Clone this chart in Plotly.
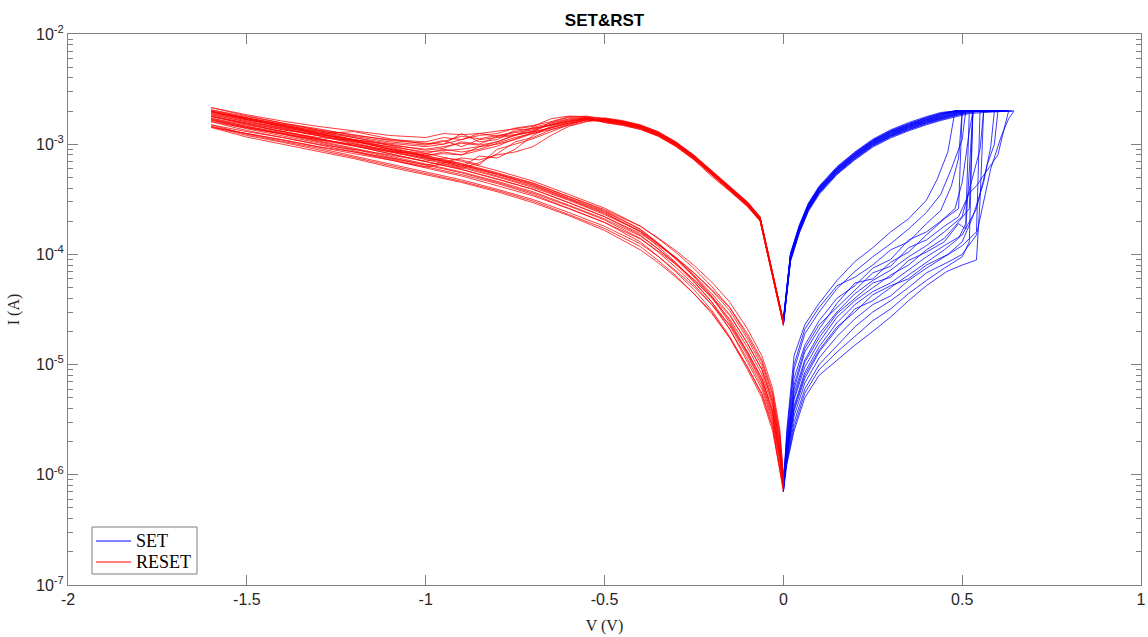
import plotly.graph_objects as go

# ---------------- SET sweeps (0 -> Vmax -> 0) ----------------
SET_V_FWD = [0.0, 0.01, 0.03, 0.06, 0.10, 0.15, 0.20, 0.25, 0.30, 0.35, 0.40]
SET_V_RET = [0.52, 0.48, 0.44, 0.40, 0.35, 0.30, 0.25, 0.20, 0.15, 0.10, 0.07, 0.045, 0.02, 0.0]

set_hrs_I = [
    [8.0e-7, 2.6e-6, 1.2e-5, 2.3e-5, 3.6e-5, 5.8e-5, 8.6e-5, 1.15e-4, 1.6e-4, 2.1e-4, 3.1e-4],
    [7.5e-7, 2.2e-6, 9.0e-6, 1.9e-5, 3.0e-5, 4.9e-5, 7.0e-5, 9.5e-5, 1.25e-4, 1.7e-4, 2.4e-4],
    [9.0e-7, 2.0e-6, 7.5e-6, 1.5e-5, 2.5e-5, 4.0e-5, 5.2e-5, 7.5e-5, 9.0e-5, 1.35e-4, 1.6e-4],
    [7.0e-7, 1.8e-6, 6.0e-6, 1.3e-5, 2.1e-5, 3.6e-5, 5.5e-5, 6.0e-5, 8.5e-5, 1.05e-4, 1.5e-4],
    [8.5e-7, 1.7e-6, 5.5e-6, 1.1e-5, 1.9e-5, 3.0e-5, 4.4e-5, 5.8e-5, 7.2e-5, 9.5e-5, 1.2e-4],
    [7.2e-7, 1.6e-6, 4.8e-6, 9.5e-6, 1.6e-5, 2.7e-5, 3.8e-5, 5.0e-5, 6.5e-5, 8.0e-5, 1.1e-4],
    [1.0e-6, 1.5e-6, 4.2e-6, 8.5e-6, 1.45e-5, 2.4e-5, 3.5e-5, 4.6e-5, 5.5e-5, 7.2e-5, 9.5e-5],
    [7.0e-7, 1.45e-6, 3.8e-6, 7.5e-6, 1.3e-5, 2.1e-5, 3.2e-5, 3.8e-5, 5.0e-5, 6.5e-5, 8.5e-5],
    [8.0e-7, 1.4e-6, 3.4e-6, 6.8e-6, 1.15e-5, 1.8e-5, 2.6e-5, 3.5e-5, 4.2e-5, 5.8e-5, 7.5e-5],
    [7.5e-7, 1.35e-6, 3.0e-6, 6.0e-6, 1.0e-5, 1.5e-5, 2.2e-5, 3.0e-5, 3.8e-5, 5.0e-5, 6.8e-5],
    [9.0e-7, 1.3e-6, 2.7e-6, 5.5e-6, 9.0e-6, 1.3e-5, 1.8e-5, 2.5e-5, 3.2e-5, 4.4e-5, 5.8e-5],
    [7.0e-7, 1.25e-6, 2.5e-6, 5.0e-6, 8.0e-6, 1.1e-5, 1.5e-5, 2.0e-5, 2.7e-5, 3.8e-5, 5.2e-5],
    [8.0e-7, 2.4e-6, 1.0e-5, 2.1e-5, 3.3e-5, 5.2e-5, 6.2e-5, 8.0e-5, 1.1e-4, 1.3e-4, 1.9e-4],
    [7.5e-7, 1.9e-6, 6.5e-6, 1.4e-5, 2.3e-5, 3.3e-5, 4.8e-5, 6.8e-5, 7.8e-5, 1.15e-4, 1.35e-4],
    [9.0e-7, 1.6e-6, 5.0e-6, 1.05e-5, 1.75e-5, 2.9e-5, 4.0e-5, 5.5e-5, 6.2e-5, 8.8e-5, 1.05e-4],
    [7.0e-7, 1.5e-6, 4.0e-6, 8.0e-6, 1.35e-5, 2.2e-5, 3.0e-5, 4.3e-5, 5.2e-5, 6.0e-5, 8.0e-5],
]

set_tail_V = [
    [0.43, 0.46, 0.48, 0.55],
    [0.44, 0.47, 0.50, 0.51, 0.58],
    [0.44, 0.48, 0.50, 0.52, 0.53, 0.60],
    [0.45, 0.49, 0.50, 0.57],
    [0.45, 0.50, 0.53, 0.55, 0.56, 0.62],
    [0.45, 0.48, 0.52, 0.53, 0.59],
    [0.45, 0.50, 0.54, 0.57, 0.59, 0.60, 0.64],
    [0.45, 0.49, 0.51, 0.52, 0.57],
    [0.45, 0.50, 0.54, 0.55, 0.61],
    [0.46, 0.50, 0.54, 0.58, 0.61, 0.63, 0.645],
    [0.45, 0.50, 0.52, 0.53, 0.60],
    [0.457, 0.50, 0.54, 0.55, 0.56, 0.62],
    [0.44, 0.47, 0.49, 0.50, 0.56],
    [0.45, 0.49, 0.52, 0.54, 0.60, 0.62, 0.63],
    [0.45, 0.49, 0.51, 0.53, 0.58],
    [0.46, 0.50, 0.53, 0.56, 0.58, 0.59, 0.63],
]
set_tail_I = [
    [4.8e-4, 8.5e-4, 2.0e-3, 2.0e-3],
    [3.5e-4, 6.0e-4, 1.1e-3, 2.0e-3, 2.0e-3],
    [2.0e-4, 2.6e-4, 4.5e-4, 1.3e-3, 2.0e-3, 2.0e-3],
    [2.1e-4, 2.6e-4, 2.0e-3, 2.0e-3],
    [1.6e-4, 2.2e-4, 5.0e-4, 9.0e-4, 2.0e-3, 2.0e-3],
    [1.4e-4, 1.8e-4, 2.6e-4, 2.0e-3, 2.0e-3],
    [1.2e-4, 1.5e-4, 2.6e-4, 6.5e-4, 1.0e-3, 2.0e-3, 2.0e-3],
    [1.1e-4, 1.4e-4, 1.9e-4, 2.0e-3, 2.0e-3],
    [9.5e-5, 1.2e-4, 1.6e-4, 2.0e-3, 2.0e-3],
    [8.5e-5, 1.0e-4, 1.5e-4, 6.0e-4, 1.2e-3, 1.7e-3, 2.0e-3],
    [7.5e-5, 9.5e-5, 1.3e-4, 2.0e-3, 2.0e-3],
    [7.0e-5, 8.0e-5, 8.9e-5, 3.1e-4, 2.0e-3, 2.0e-3],
    [2.5e-4, 4.2e-4, 7.5e-4, 2.0e-3, 2.0e-3],
    [1.8e-4, 2.2e-4, 3.6e-4, 4.2e-4, 8.0e-4, 1.5e-3, 2.0e-3],
    [1.3e-4, 1.9e-4, 1.7e-4, 2.0e-3, 2.0e-3],
    [1.0e-4, 1.3e-4, 2.2e-4, 4.5e-4, 9.5e-4, 2.0e-3, 2.0e-3],
]

set_lrs_I = [
    [1.93e-3, 1.81e-3, 1.67e-3, 1.53e-3, 1.35e-3, 1.16e-3, 9.6e-4, 7.35e-4, 5.4e-4, 3.6e-4, 2.5e-4, 1.6e-4, 8.8e-5, 2.3e-5],
    [2.0e-3, 1.87e-3, 1.73e-3, 1.58e-3, 1.39e-3, 1.2e-3, 9.9e-4, 7.6e-4, 5.55e-4, 3.7e-4, 2.6e-4, 1.65e-4, 9.1e-5, 2.35e-5],
    [2.0e-3, 1.91e-3, 1.76e-3, 1.62e-3, 1.42e-3, 1.22e-3, 1.01e-3, 7.75e-4, 5.7e-4, 3.78e-4, 2.65e-4, 1.69e-4, 9.3e-5, 2.4e-5],
    [2.0e-3, 1.95e-3, 1.80e-3, 1.65e-3, 1.45e-3, 1.25e-3, 1.03e-3, 7.9e-4, 5.8e-4, 3.85e-4, 2.7e-4, 1.72e-4, 9.5e-5, 2.4e-5],
    [2.0e-3, 1.99e-3, 1.84e-3, 1.68e-3, 1.48e-3, 1.28e-3, 1.05e-3, 8.05e-4, 5.9e-4, 3.93e-4, 2.75e-4, 1.75e-4, 9.7e-5, 2.45e-5],
    [2.0e-3, 2.0e-3, 1.87e-3, 1.72e-3, 1.51e-3, 1.3e-3, 1.07e-3, 8.2e-4, 6.0e-4, 4.0e-4, 2.8e-4, 1.79e-4, 9.9e-5, 2.5e-5],
    [2.0e-3, 2.0e-3, 1.91e-3, 1.75e-3, 1.54e-3, 1.33e-3, 1.09e-3, 8.4e-4, 6.15e-4, 4.08e-4, 2.86e-4, 1.82e-4, 1.0e-4, 2.55e-5],
    [1.98e-3, 1.85e-3, 1.71e-3, 1.57e-3, 1.38e-3, 1.19e-3, 9.8e-4, 7.5e-4, 5.5e-4, 3.66e-4, 2.57e-4, 1.63e-4, 9.0e-5, 2.3e-5],
    [2.0e-3, 1.93e-3, 1.78e-3, 1.63e-3, 1.44e-3, 1.24e-3, 1.02e-3, 7.8e-4, 5.75e-4, 3.81e-4, 2.67e-4, 1.7e-4, 9.4e-5, 2.4e-5],
    [2.0e-3, 1.97e-3, 1.82e-3, 1.67e-3, 1.46e-3, 1.26e-3, 1.04e-3, 8.0e-4, 5.85e-4, 3.89e-4, 2.73e-4, 1.74e-4, 9.6e-5, 2.4e-5],
    [2.0e-3, 2.0e-3, 1.85e-3, 1.7e-3, 1.49e-3, 1.29e-3, 1.06e-3, 8.1e-4, 5.95e-4, 3.97e-4, 2.78e-4, 1.77e-4, 9.8e-5, 2.45e-5],
    [2.0e-3, 1.89e-3, 1.75e-3, 1.6e-3, 1.41e-3, 1.21e-3, 1.0e-3, 7.7e-4, 5.6e-4, 3.73e-4, 2.62e-4, 1.67e-4, 9.2e-5, 2.35e-5],
    [2.0e-3, 2.0e-3, 1.89e-3, 1.73e-3, 1.52e-3, 1.31e-3, 1.08e-3, 8.3e-4, 6.1e-4, 4.04e-4, 2.84e-4, 1.81e-4, 1.0e-4, 2.5e-5],
    [1.96e-3, 1.83e-3, 1.69e-3, 1.55e-3, 1.36e-3, 1.18e-3, 9.7e-4, 7.4e-4, 5.45e-4, 3.62e-4, 2.54e-4, 1.62e-4, 8.9e-5, 2.3e-5],
    [2.0e-3, 2.0e-3, 1.94e-3, 1.78e-3, 1.57e-3, 1.35e-3, 1.11e-3, 8.5e-4, 6.25e-4, 4.16e-4, 2.92e-4, 1.86e-4, 1.03e-4, 2.55e-5],
    [1.9e-3, 1.77e-3, 1.64e-3, 1.5e-3, 1.32e-3, 1.14e-3, 9.4e-4, 7.2e-4, 5.3e-4, 3.5e-4, 2.46e-4, 1.57e-4, 8.6e-5, 2.25e-5],
]

# ---------------- RESET sweeps (0 -> -1.6 -> 0) ----------------
RST_V_LRS = [0.0, -0.065, -0.10, -0.15, -0.20, -0.25, -0.30, -0.35, -0.40, -0.45, -0.50]
RST_V_MID = [-0.55, -0.60, -0.65, -0.70, -0.75, -0.80, -0.85, -0.90, -0.95, -1.00,
             -1.10, -1.20, -1.30, -1.40, -1.50, -1.60]
RST_V_RET = [-1.50, -1.40, -1.30, -1.20, -1.10, -1.00, -0.90, -0.80, -0.70, -0.60,
             -0.50, -0.40, -0.35, -0.30, -0.25, -0.20, -0.15, -0.10, -0.06, -0.03, -0.01, 0.0]

rst_lrs_I = [
    [2.3e-5, 2.0e-4, 2.7e-4, 3.75e-4, 5.1e-4, 7.2e-4, 9.5e-4, 1.18e-3, 1.36e-3, 1.48e-3, 1.57e-3],
    [2.35e-5, 2.04e-4, 2.76e-4, 3.83e-4, 5.24e-4, 7.37e-4, 9.7e-4, 1.2e-3, 1.39e-3, 1.51e-3, 1.6e-3],
    [2.4e-5, 2.08e-4, 2.82e-4, 3.91e-4, 5.35e-4, 7.52e-4, 9.9e-4, 1.23e-3, 1.42e-3, 1.54e-3, 1.63e-3],
    [2.4e-5, 2.1e-4, 2.85e-4, 3.95e-4, 5.4e-4, 7.6e-4, 1.0e-3, 1.24e-3, 1.43e-3, 1.56e-3, 1.65e-3],
    [2.4e-5, 2.12e-4, 2.88e-4, 3.99e-4, 5.45e-4, 7.68e-4, 1.01e-3, 1.25e-3, 1.44e-3, 1.58e-3, 1.67e-3],
    [2.45e-5, 2.16e-4, 2.94e-4, 4.07e-4, 5.56e-4, 7.83e-4, 1.03e-3, 1.28e-3, 1.47e-3, 1.61e-3, 1.7e-3],
    [2.5e-5, 2.2e-4, 3.0e-4, 4.15e-4, 5.67e-4, 7.98e-4, 1.05e-3, 1.3e-3, 1.5e-3, 1.64e-3, 1.73e-3],
    [2.3e-5, 2.02e-4, 2.74e-4, 3.79e-4, 5.18e-4, 7.3e-4, 9.6e-4, 1.19e-3, 1.37e-3, 1.5e-3, 1.58e-3],
    [2.35e-5, 2.06e-4, 2.79e-4, 3.87e-4, 5.29e-4, 7.45e-4, 9.8e-4, 1.22e-3, 1.4e-3, 1.53e-3, 1.62e-3],
    [2.45e-5, 2.14e-4, 2.91e-4, 4.03e-4, 5.5e-4, 7.75e-4, 1.02e-3, 1.26e-3, 1.46e-3, 1.59e-3, 1.68e-3],
    [2.5e-5, 2.18e-4, 2.96e-4, 4.11e-4, 5.62e-4, 7.9e-4, 1.04e-3, 1.29e-3, 1.49e-3, 1.62e-3, 1.72e-3],
    [2.4e-5, 2.1e-4, 2.85e-4, 3.95e-4, 5.4e-4, 7.6e-4, 1.0e-3, 1.24e-3, 1.43e-3, 1.56e-3, 1.66e-3],
    [2.35e-5, 2.04e-4, 2.76e-4, 3.83e-4, 5.24e-4, 7.37e-4, 9.7e-4, 1.2e-3, 1.39e-3, 1.52e-3, 1.61e-3],
    [2.45e-5, 2.14e-4, 2.91e-4, 4.03e-4, 5.5e-4, 7.75e-4, 1.02e-3, 1.26e-3, 1.46e-3, 1.59e-3, 1.69e-3],
    [2.4e-5, 2.1e-4, 2.85e-4, 3.95e-4, 5.4e-4, 7.6e-4, 1.0e-3, 1.24e-3, 1.43e-3, 1.56e-3, 1.65e-3],
    [2.45e-5, 2.16e-4, 2.94e-4, 4.07e-4, 5.56e-4, 7.83e-4, 1.03e-3, 1.28e-3, 1.47e-3, 1.61e-3, 1.7e-3],
]

rst_mid_I = [
    [1.78e-3, 1.80e-3, 1.70e-3, 1.45e-3, 1.38e-3, 1.30e-3, 1.25e-3, 1.22e-3, 1.25e-3, 1.15e-3, 1.2e-3, 1.32e-3, 1.45e-3, 1.62e-3, 1.85e-3, 2.15e-3],
    [1.65e-3, 1.55e-3, 1.40e-3, 1.30e-3, 1.20e-3, 1.05e-3, 9.5e-4, 9.0e-4, 8.8e-4, 8.5e-4, 9.5e-4, 1.05e-3, 1.2e-3, 1.35e-3, 1.55e-3, 1.78e-3],
    [1.7e-3, 1.6e-3, 1.45e-3, 1.2e-3, 9.0e-4, 7.5e-4, 7.8e-4, 6.2e-4, 7.0e-4, 7.5e-4, 8.5e-4, 9.5e-4, 1.08e-3, 1.22e-3, 1.4e-3, 1.6e-3],
    [1.72e-3, 1.62e-3, 1.5e-3, 1.38e-3, 1.35e-3, 1.1e-3, 1.05e-3, 1.25e-3, 1.0e-3, 9.5e-4, 1.02e-3, 1.15e-3, 1.3e-3, 1.45e-3, 1.7e-3, 1.95e-3],
    [1.68e-3, 1.5e-3, 1.3e-3, 1.12e-3, 1.0e-3, 9.0e-4, 6.5e-4, 7.2e-4, 7.5e-4, 7.0e-4, 8.0e-4, 9.0e-4, 1.0e-3, 1.15e-3, 1.3e-3, 1.5e-3],
    [1.75e-3, 1.7e-3, 1.55e-3, 1.42e-3, 1.2e-3, 1.15e-3, 1.1e-3, 9.5e-4, 1.08e-3, 1.0e-3, 1.12e-3, 1.3e-3, 1.25e-3, 1.5e-3, 1.72e-3, 2.0e-3],
    [1.62e-3, 1.48e-3, 1.35e-3, 1.25e-3, 1.1e-3, 1.0e-3, 9.5e-4, 8.0e-4, 8.5e-4, 7.8e-4, 8.8e-4, 1.0e-3, 1.1e-3, 1.25e-3, 1.42e-3, 1.65e-3],
    [1.7e-3, 1.58e-3, 1.4e-3, 1.25e-3, 1.15e-3, 1.02e-3, 9.0e-4, 8.5e-4, 9.0e-4, 8.2e-4, 9.0e-4, 1.08e-3, 1.15e-3, 1.3e-3, 1.5e-3, 1.72e-3],
    [1.74e-3, 1.65e-3, 1.5e-3, 1.32e-3, 1.22e-3, 1.18e-3, 1.0e-3, 1.05e-3, 9.2e-4, 8.8e-4, 1.0e-3, 1.1e-3, 1.25e-3, 1.4e-3, 1.6e-3, 1.85e-3],
    [1.6e-3, 1.45e-3, 1.2e-3, 9.5e-4, 8.5e-4, 8.0e-4, 7.2e-4, 7.5e-4, 6.8e-4, 6.5e-4, 7.5e-4, 8.5e-4, 9.5e-4, 1.1e-3, 1.25e-3, 1.42e-3],
    [1.76e-3, 1.78e-3, 1.6e-3, 1.48e-3, 1.4e-3, 1.25e-3, 1.2e-3, 1.1e-3, 1.15e-3, 1.05e-3, 1.1e-3, 1.2e-3, 1.38e-3, 1.55e-3, 1.78e-3, 2.05e-3],
    [1.66e-3, 1.55e-3, 1.42e-3, 1.28e-3, 1.12e-3, 9.6e-4, 8.8e-4, 8.0e-4, 8.2e-4, 8.0e-4, 8.6e-4, 9.8e-4, 1.12e-3, 1.28e-3, 1.45e-3, 1.68e-3],
    [1.72e-3, 1.68e-3, 1.52e-3, 1.35e-3, 1.28e-3, 1.2e-3, 1.12e-3, 1.18e-3, 1.06e-3, 9.8e-4, 1.05e-3, 1.18e-3, 1.32e-3, 1.48e-3, 1.66e-3, 1.9e-3],
    [1.68e-3, 1.52e-3, 1.35e-3, 1.15e-3, 1.05e-3, 8.2e-4, 6.8e-4, 6.0e-4, 6.6e-4, 6.2e-4, 7.2e-4, 8.2e-4, 9.4e-4, 1.08e-3, 1.25e-3, 1.45e-3],
    [1.7e-3, 1.62e-3, 1.48e-3, 1.4e-3, 1.3e-3, 1.18e-3, 1.25e-3, 1.1e-3, 1.0e-3, 1.02e-3, 1.08e-3, 1.22e-3, 1.35e-3, 1.52e-3, 1.72e-3, 1.98e-3],
    [1.8e-3, 1.75e-3, 1.58e-3, 1.3e-3, 1.22e-3, 1.05e-3, 9.8e-4, 1.02e-3, 9.5e-4, 9.0e-4, 9.8e-4, 1.1e-3, 1.22e-3, 1.36e-3, 1.56e-3, 1.8e-3],
]

rst_ret_I = [
    [1.81e-3, 1.56e-3, 1.35e-3, 1.15e-3, 9.75e-4, 8.25e-4, 7.0e-4, 5.75e-4, 4.63e-4, 3.5e-4, 2.63e-4, 1.81e-4, 1.39e-4, 1.04e-4, 7.46e-5, 5.1e-5, 3.3e-5, 1.8e-5, 1.05e-5, 5.3e-6, 2.2e-6, 9.5e-7],
    [1.52e-3, 1.31e-3, 1.13e-3, 9.7e-4, 8.2e-4, 6.9e-4, 5.9e-4, 4.8e-4, 3.9e-4, 2.95e-4, 2.2e-4, 1.5e-4, 1.12e-4, 8.1e-5, 5.6e-5, 3.7e-5, 2.25e-5, 1.2e-5, 6.8e-6, 3.4e-6, 1.45e-6, 8.0e-7],
    [1.33e-3, 1.15e-3, 9.9e-4, 8.5e-4, 7.2e-4, 6.1e-4, 5.15e-4, 4.2e-4, 3.4e-4, 2.6e-4, 1.95e-4, 1.38e-4, 1.07e-4, 8.1e-5, 5.9e-5, 4.1e-5, 2.8e-5, 1.55e-5, 9.0e-6, 4.6e-6, 1.9e-6, 8.5e-7],
    [1.67e-3, 1.44e-3, 1.24e-3, 1.06e-3, 9.0e-4, 7.6e-4, 6.45e-4, 5.3e-4, 4.25e-4, 3.2e-4, 2.4e-4, 1.6e-4, 1.18e-4, 8.4e-5, 5.7e-5, 3.7e-5, 2.1e-5, 1.05e-5, 6.0e-6, 3.0e-6, 1.3e-6, 7.5e-7],
    [1.23e-3, 1.06e-3, 9.2e-4, 7.8e-4, 6.6e-4, 5.6e-4, 4.75e-4, 3.9e-4, 3.15e-4, 2.4e-4, 1.8e-4, 1.25e-4, 9.6e-5, 7.1e-5, 5.1e-5, 3.5e-5, 2.3e-5, 1.3e-5, 7.5e-6, 3.8e-6, 1.6e-6, 9.0e-7],
    [1.71e-3, 1.48e-3, 1.27e-3, 1.09e-3, 9.2e-4, 7.8e-4, 6.6e-4, 5.4e-4, 4.4e-4, 3.35e-4, 2.55e-4, 1.8e-4, 1.41e-4, 1.08e-4, 7.95e-5, 5.6e-5, 3.7e-5, 2.1e-5, 1.2e-5, 6.1e-6, 2.6e-6, 1.0e-6],
    [1.38e-3, 1.19e-3, 1.03e-3, 8.7e-4, 7.4e-4, 6.3e-4, 5.3e-4, 4.4e-4, 3.5e-4, 2.62e-4, 1.95e-4, 1.3e-4, 9.6e-5, 6.9e-5, 4.8e-5, 3.1e-5, 1.8e-5, 9.5e-6, 5.3e-6, 2.7e-6, 1.15e-6, 7.0e-7],
    [1.45e-3, 1.25e-3, 1.08e-3, 9.2e-4, 7.8e-4, 6.6e-4, 5.6e-4, 4.6e-4, 3.7e-4, 2.8e-4, 2.1e-4, 1.47e-4, 1.12e-4, 8.3e-5, 5.9e-5, 4.0e-5, 2.6e-5, 1.43e-5, 8.2e-6, 4.2e-6, 1.75e-6, 8.5e-7],
    [1.6e-3, 1.38e-3, 1.19e-3, 1.01e-3, 8.6e-4, 7.3e-4, 6.15e-4, 5.05e-4, 4.05e-4, 3.1e-4, 2.3e-4, 1.62e-4, 1.25e-4, 9.4e-5, 6.8e-5, 4.7e-5, 3.1e-5, 1.7e-5, 9.8e-6, 4.9e-6, 2.1e-6, 9.0e-7],
    [1.16e-3, 1.0e-3, 8.6e-4, 7.4e-4, 6.2e-4, 5.3e-4, 4.5e-4, 3.7e-4, 2.95e-4, 2.25e-4, 1.65e-4, 1.1e-4, 8.4e-5, 6.2e-5, 4.4e-5, 3.0e-5, 1.75e-5, 9.0e-6, 5.0e-6, 2.5e-6, 1.1e-6, 7.5e-7],
    [1.74e-3, 1.5e-3, 1.3e-3, 1.1e-3, 9.4e-4, 7.9e-4, 6.7e-4, 5.5e-4, 4.45e-4, 3.35e-4, 2.5e-4, 1.7e-4, 1.27e-4, 9.2e-5, 6.4e-5, 4.2e-5, 2.5e-5, 1.3e-5, 7.5e-6, 3.8e-6, 1.6e-6, 8.0e-7],
    [1.42e-3, 1.23e-3, 1.06e-3, 9.0e-4, 7.6e-4, 6.5e-4, 5.5e-4, 4.5e-4, 3.6e-4, 2.75e-4, 2.05e-4, 1.4e-4, 1.05e-4, 7.6e-5, 5.3e-5, 3.5e-5, 2.1e-5, 1.12e-5, 6.4e-6, 3.2e-6, 1.4e-6, 8.0e-7],
    [1.63e-3, 1.4e-3, 1.21e-3, 1.03e-3, 8.7e-4, 7.4e-4, 6.3e-4, 5.15e-4, 4.15e-4, 3.15e-4, 2.35e-4, 1.63e-4, 1.24e-4, 9.2e-5, 6.5e-5, 4.4e-5, 2.85e-5, 1.55e-5, 9.0e-6, 4.5e-6, 1.9e-6, 8.5e-7],
    [1.2e-3, 1.04e-3, 8.9e-4, 7.6e-4, 6.4e-4, 5.45e-4, 4.6e-4, 3.8e-4, 3.05e-4, 2.3e-4, 1.72e-4, 1.18e-4, 8.8e-5, 6.4e-5, 4.4e-5, 2.9e-5, 1.75e-5, 9.5e-6, 5.5e-6, 2.8e-6, 1.2e-6, 7.5e-7],
    [1.68e-3, 1.45e-3, 1.25e-3, 1.07e-3, 9.0e-4, 7.65e-4, 6.5e-4, 5.35e-4, 4.3e-4, 3.25e-4, 2.45e-4, 1.68e-4, 1.25e-4, 9.0e-5, 6.25e-5, 4.1e-5, 2.4e-5, 1.25e-5, 7.1e-6, 3.6e-6, 1.5e-6, 8.0e-7],
    [1.52e-3, 1.31e-3, 1.13e-3, 9.65e-4, 8.2e-4, 6.95e-4, 5.9e-4, 4.85e-4, 3.9e-4, 2.95e-4, 2.2e-4, 1.55e-4, 1.21e-4, 9.25e-5, 6.8e-5, 4.8e-5, 3.3e-5, 1.9e-5, 1.1e-5, 5.6e-6, 2.4e-6, 9.5e-7],
]

X_TICKS = [-2, -1.5, -1, -0.5, 0, 0.5, 1]
X_TICK_TEXT = ["-2", "-1.5", "-1", "-0.5", "0", "0.5", "1"]
Y_TICKS = [1e-7, 1e-6, 1e-5, 1e-4, 1e-3, 1e-2]
Y_TICK_TEXT = ["10<sup>-7</sup>", "10<sup>-6</sup>", "10<sup>-5</sup>",
               "10<sup>-4</sup>", "10<sup>-3</sup>", "10<sup>-2</sup>"]
LEGEND_LABELS = ["SET", "RESET"]

BLUE = "#0000FF"
RED = "#FF0000"
LW = 0.9

fig = go.Figure()

for k in range(len(set_hrs_I)):
    xs = SET_V_FWD + set_tail_V[k] + SET_V_RET
    ys = set_hrs_I[k] + set_tail_I[k] + set_lrs_I[k]
    fig.add_trace(go.Scatter(x=xs, y=ys, mode="lines", line=dict(color=BLUE, width=LW),
                             name="SET", legendgroup="set", showlegend=False,
                             opacity=0.85))

for k in range(len(rst_lrs_I)):
    xs = RST_V_LRS + RST_V_MID + RST_V_RET
    ys = rst_lrs_I[k] + rst_mid_I[k] + rst_ret_I[k]
    fig.add_trace(go.Scatter(x=xs, y=ys, mode="lines", line=dict(color=RED, width=LW),
                             name="RESET", legendgroup="rst", showlegend=False,
                             opacity=0.85))

minor_vals = [m * 10 ** e for e in range(-7, -2) for m in range(2, 10)]

axis_color = "#808080"
tick_font = dict(family="Liberation Sans, Arial, sans-serif", size=16, color="#262626")
label_font = dict(family="Liberation Serif, Times New Roman, serif", size=16, color="#262626")
legend_font = dict(family="Liberation Serif, Times New Roman, serif", size=18, color="black")

# ---- legend box (MATLAB style), positioned in paper coordinates ----
PLOT_L, PLOT_R, PLOT_T, PLOT_B = 68, 1141, 34, 585
def px2paper_x(px):
    return (px - PLOT_L) / (PLOT_R - PLOT_L)
def px2paper_y(py):
    return (PLOT_B - py) / (PLOT_B - PLOT_T)

shapes = [dict(type="rect", xref="paper", yref="paper",
               x0=px2paper_x(92), x1=px2paper_x(197), y0=px2paper_y(574), y1=px2paper_y(527),
               line=dict(color="#7f7f7f", width=1), fillcolor="white", layer="above")]
annotations = []
for label, color, row_y in zip(LEGEND_LABELS, [BLUE, RED], [541, 562]):
    shapes.append(dict(type="line", xref="paper", yref="paper",
                       x0=px2paper_x(96), x1=px2paper_x(131),
                       y0=px2paper_y(row_y), y1=px2paper_y(row_y),
                       line=dict(color=color, width=1.2), layer="above"))
    annotations.append(dict(text=label, xref="paper", yref="paper",
                            x=px2paper_x(134), y=px2paper_y(row_y),
                            xanchor="left", yanchor="middle", showarrow=False,
                            font=legend_font))

fig.update_layout(
    width=1148, height=637,
    margin=dict(l=PLOT_L, r=1148 - PLOT_R, t=PLOT_T, b=637 - PLOT_B),
    paper_bgcolor="white", plot_bgcolor="white",
    title=dict(text="<b>SET&RST</b>", x=0.5, xref="paper", y=1 - 20 / 637, yanchor="middle",
               font=dict(family="Liberation Sans, Arial, sans-serif", size=17, color="black")),
    showlegend=False,
    shapes=shapes,
    annotations=annotations,
)

fig.update_xaxes(
    range=[-2, 1], tickvals=X_TICKS, ticktext=X_TICK_TEXT, automargin=False,
    showgrid=False, zeroline=False, showline=True, linecolor=axis_color, linewidth=1,
    mirror="ticks", ticks="inside", ticklen=10, tickcolor=axis_color, tickwidth=1,
    tickfont=tick_font,
    title=dict(text="V (V)", standoff=12, font=label_font),
)

fig.update_yaxes(
    type="log", range=[-7, -2], tickvals=Y_TICKS, ticktext=Y_TICK_TEXT, automargin=False,
    showgrid=False, zeroline=False, showline=True, linecolor=axis_color, linewidth=1,
    mirror="ticks", ticks="inside", ticklen=10, tickcolor=axis_color, tickwidth=1,
    tickfont=tick_font,
    minor=dict(tickmode="array", tickvals=minor_vals, ticks="inside", ticklen=5,
               tickcolor=axis_color, showgrid=False),
    title=dict(text="I (A)", standoff=12, font=label_font),
)

fig.write_html("out.html")
